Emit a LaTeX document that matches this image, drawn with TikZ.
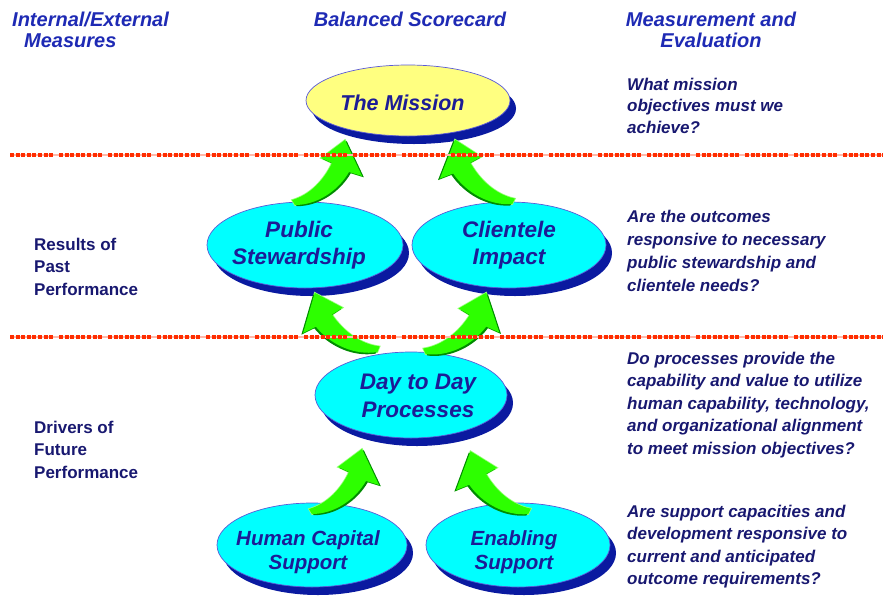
\documentclass[tikz,border=0pt]{standalone}
\usepackage{fontspec}
\setmainfont{Liberation Sans}
\usetikzlibrary{shapes.geometric,shadows,calc}

\definecolor{cyanfill}{RGB}{0,255,255}
\definecolor{missionfill}{RGB}{255,255,128}
\definecolor{shadowblue}{RGB}{10,26,160}
\definecolor{ovalline}{RGB}{90,90,215}
\definecolor{nodetext}{RGB}{28,28,150}
\definecolor{sidetext}{RGB}{24,24,112}
\definecolor{headtext}{RGB}{30,42,180}
\definecolor{arrowgreen}{RGB}{45,255,0}
\definecolor{arrowdark}{RGB}{0,140,0}
\definecolor{arrowlight}{RGB}{150,255,120}
\definecolor{sepred}{RGB}{255,45,0}
\definecolor{seppale}{RGB}{255,185,170}

\begin{document}
\begin{tikzpicture}[x=1pt,y=-1pt,
  oval/.style={ellipse, inner sep=0pt, draw=ovalline, line width=.7pt,
    drop shadow={shadow xshift=6pt, shadow yshift=-8pt, fill=shadowblue, opacity=1}},
  bigtext/.style={anchor=base, inner sep=0pt, text=nodetext, font=\fontsize{22.5}{27}\selectfont\bfseries\itshape},
  smalltext/.style={anchor=base, inner sep=0pt, text=nodetext, font=\fontsize{20.5}{24}\selectfont\bfseries\itshape},
  head/.style={anchor=base, inner sep=0pt, text=headtext, font=\fontsize{20}{21}\selectfont\bfseries\itshape},
  side/.style={anchor=base west, inner sep=0pt, text=sidetext, font=\fontsize{17}{22}\selectfont\bfseries},
  note/.style={anchor=base west, inner sep=0pt, text=sidetext, font=\fontsize{17}{22}\selectfont\bfseries\itshape},
  liftshape/.style={insert path={
    (0,2) .. controls (22,2) and (43,-12) .. (54,-31)
    -- (67,-27) -- (50,-63) -- (26,-45) -- (37,-40)
    .. controls (29,-23) and (15,-8) .. (-3,-3) -- cycle}},
  lift/.pic={
    \fill[arrowlight, line width=1.6pt, draw=arrowlight, liftshape];
    \fill[arrowdark, shift={(1.8,1.2)}, liftshape];
    \fill[arrowgreen, liftshape];
  },
  sepline/.style={sepred, line width=3.5pt,
    dash pattern=on 4pt off 1.6pt on 4pt off 1.6pt on 4pt off 1.6pt on 4pt off 1.6pt
                 on 4pt off 1.6pt on 4pt off 1.6pt on 4pt off 1.6pt on 4pt off 5.8pt},
  paleline/.style={seppale, line width=1.5pt}
]
\useasboundingbox (0,0) rectangle (883,595);

% column headings
\node[head, anchor=base west] (h-int) at (12,26) {Internal/External};
\node[head, anchor=base west] (h-meas) at (24,47) {Measures};
\node[head] (h-bsc) at (410,26) {Balanced Scorecard};
\node[head] (h-me1) at (711,26) {Measurement and};
\node[head] (h-me2) at (711,47) {Evaluation};

% scorecard ovals
\node[oval, fill=missionfill, minimum width=204pt, minimum height=71pt] (mission) at (408,100.5) {};
\node[oval, fill=cyanfill, minimum width=196pt, minimum height=86pt] (ps) at (305,245) {};
\node[oval, fill=cyanfill, minimum width=194pt, minimum height=86pt] (ci) at (509,245) {};
\node[oval, fill=cyanfill, minimum width=192pt, minimum height=86pt] (day) at (411,395) {};
\node[oval, fill=cyanfill, minimum width=190pt, minimum height=84pt] (hc) at (312,545) {};
\node[oval, fill=cyanfill, minimum width=184pt, minimum height=84pt] (es) at (518,545) {};

% oval labels
\node[bigtext, font=\fontsize{21.5}{26}\selectfont\bfseries\itshape] (mission-t) at (402.5,110) {The Mission};
\node[bigtext] (ps-t1) at (299,237) {Public};
\node[bigtext] (ps-t2) at (299,264) {Stewardship};
\node[bigtext] (ci-t1) at (509,237) {Clientele};
\node[bigtext] (ci-t2) at (509,264) {Impact};
\node[bigtext] (day-t1) at (418,389) {Day to Day};
\node[bigtext] (day-t2) at (418,417) {Processes};
\node[smalltext] (hc-t1) at (308,545) {Human Capital};
\node[smalltext] (hc-t2) at (308,569) {Support};
\node[smalltext] (es-t1) at (514,545) {Enabling};
\node[smalltext] (es-t2) at (514,569) {Support};

% upward arrows between the levels
\pic at ($(ps)+(-10,-42)$) {lift};
\pic[rotate=4, xscale=-1.05, yscale=1.05] at ($(ci)+(3,-43)$) {lift};
\pic[rotate=9, xscale=-1.05, yscale=1.05] at ($(day)+(-34,-45)$) {lift};
\pic[rotate=-7, scale=1.05] at ($(day)+(15,-43)$) {lift};
\pic at ($(hc)+(0,-33)$) {lift};
\pic[rotate=5, xscale=-1.04, yscale=1.04] at ($(es)+(10,-33)$) {lift};

% level separators
\coordinate (s1a) at (10,155);
\coordinate (s1b) at (883,155);
\coordinate (s2a) at (10,337);
\coordinate (s2b) at (883,337);
\draw[paleline] (s1a) -- (s1b);
\draw[sepline] (s1a) -- (s1b);
\draw[paleline] (s2a) -- (s2b);
\draw[sepline] (s2a) -- (s2b);

% left column
\node[side] (l1) at (34,250) {Results of};
\node[side] (l2) at (34,272.5) {Past};
\node[side] (l3) at (34,295) {Performance};
\node[side] (l4) at (34,433) {Drivers of};
\node[side] (l5) at (34,455.5) {Future};
\node[side] (l6) at (34,478) {Performance};

% right column
\foreach \t [count=\i] in {What mission, objectives must we, achieve?}
  \node[note] (q1-\i) at (627,{90+(\i-1)*21.5}) {\t};
\foreach \t [count=\i] in {Are the outcomes, responsive to necessary, public stewardship and, clientele needs?}
  \node[note] (q2-\i) at (627,{222+(\i-1)*23}) {\t};
\foreach \t [count=\i] in {Do processes provide the, capability and value to utilize, {human capability, technology,}, and organizational alignment, to meet mission objectives?}
  \node[note] (q3-\i) at (627,{364+(\i-1)*22.6}) {\t};
\foreach \t [count=\i] in {Are support capacities and, development responsive to, current and anticipated, outcome requirements?}
  \node[note] (q4-\i) at (627,{517+(\i-1)*22.6}) {\t};
\end{tikzpicture}
\end{document}
